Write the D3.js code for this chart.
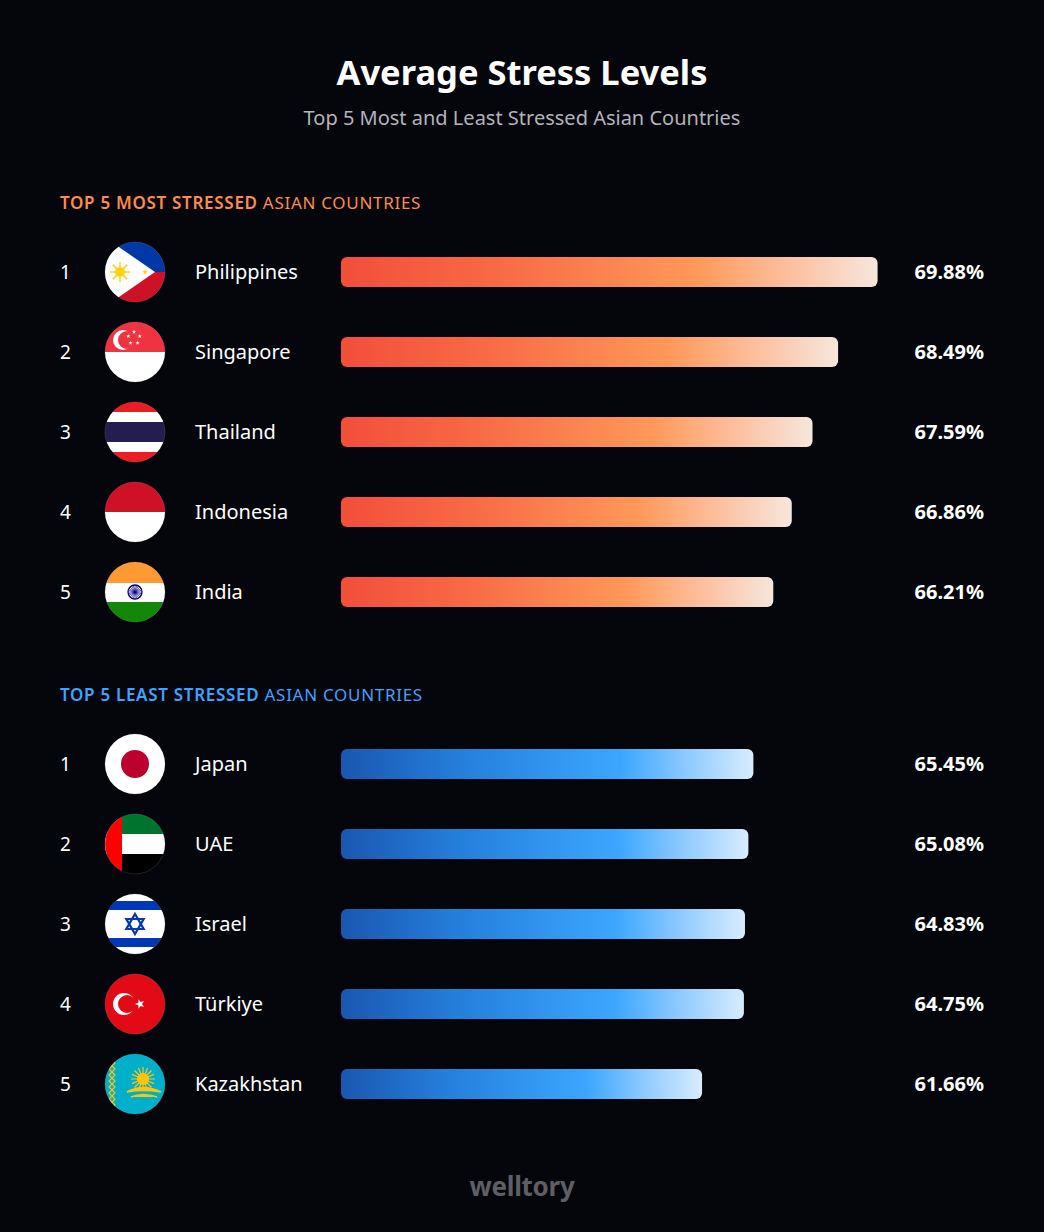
<!DOCTYPE html>
<html>
<head>
<meta charset="utf-8">
<title>Average Stress Levels</title>
<script src="https://cdn.jsdelivr.net/npm/d3@7"></script>
<style>
  body { margin: 0; background: #05060b; }
  svg { display: block; }
</style>
</head>
<body>
<script>
// data
const ranks = [1, 2, 3, 4, 5];
const mostCountries = ["Philippines", "Singapore", "Thailand", "Indonesia", "India"];
const mostValues = [69.88, 68.49, 67.59, 66.86, 66.21];
const leastCountries = ["Japan", "UAE", "Israel", "Türkiye", "Kazakhstan"];
const leastValues = [65.45, 65.08, 64.83, 64.75, 61.66];

const w = 1044;
const h = 1232;
const font = "'Noto Sans', 'Open Sans', sans-serif";
const barX = 341;
const rowStep = 80;
const barH = 30;

const svg = d3.select("body").append("svg")
  .attr("width", w)
  .attr("height", h);

svg.append("rect").attr("width", w).attr("height", h).attr("fill", "#05060b");

const defs = svg.append("defs");
defs.append("clipPath").attr("id", "flagClip")
  .append("circle").attr("r", 30);

// gradients for bars
function gradient(id, stops) {
  const g = defs.append("linearGradient").attr("id", id)
    .attr("x1", "0%").attr("x2", "100%").attr("y1", "0%").attr("y2", "0%");
  stops.forEach(s => g.append("stop").attr("offset", s[0]).attr("stop-color", s[1]));
}
gradient("gradOrange", [["0%", "#f24e3b"], ["30%", "#f86b46"], ["66%", "#ff9859"], ["85%", "#fcc3a3"], ["100%", "#f6e6dc"]]);
gradient("gradBlue", [["0%", "#1a57b0"], ["30%", "#2580dd"], ["68%", "#3ca6ff"], ["85%", "#93ccff"], ["100%", "#d8ecff"]]);

// title
svg.append("text")
  .attr("x", w / 2).attr("y", 85)
  .attr("text-anchor", "middle")
  .attr("font-family", font).attr("font-weight", 700).attr("font-size", "34.5px")
  .attr("fill", "#ffffff")
  .text("Average Stress Levels");

svg.append("text")
  .attr("x", w / 2).attr("y", 125)
  .attr("text-anchor", "middle")
  .attr("font-family", font).attr("font-size", "20px")
  .attr("fill", "#b3b3bb")
  .text("Top 5 Most and Least Stressed Asian Countries");

// small helpers for flags
function starPoints(cx, cy, r, rot) {
  const pts = [];
  for (let i = 0; i < 10; i++) {
    const rr = i % 2 === 0 ? r : r * 0.4;
    const a = (rot || -90) * Math.PI / 180 + i * Math.PI / 5;
    pts.push([cx + rr * Math.cos(a), cy + rr * Math.sin(a)]);
  }
  return pts.map(p => p.join(",")).join(" ");
}
function stripes(g, colors, heights) {
  let y = -30;
  colors.forEach((c, i) => {
    g.append("rect").attr("x", -30).attr("y", y).attr("width", 60).attr("height", heights[i]).attr("fill", c);
    y += heights[i];
  });
}
function sun(g, cx, cy, r, rays, color, rayW) {
  for (let i = 0; i < rays; i++) {
    const a = i * 2 * Math.PI / rays;
    g.append("line")
      .attr("x1", cx).attr("y1", cy)
      .attr("x2", cx + r * 2 * Math.cos(a)).attr("y2", cy + r * 2 * Math.sin(a))
      .attr("stroke", color).attr("stroke-width", rayW || 1.6);
  }
  g.append("circle").attr("cx", cx).attr("cy", cy).attr("r", r).attr("fill", color);
}

const flags = {
  "Philippines": g => {
    stripes(g, ["#0038a8", "#ce1126"], [30, 30]);
    g.append("polygon").attr("points", "-45,-45 20,0 -45,45").attr("fill", "#ffffff");
    sun(g, -15, 0, 5, 8, "#fcd116");
    g.append("polygon").attr("points", starPoints(10, 0, 3)).attr("fill", "#fcd116");
  },
  "Singapore": g => {
    stripes(g, ["#ef3340", "#ffffff"], [30, 30]);
    g.append("circle").attr("cx", -12).attr("cy", -12).attr("r", 10).attr("fill", "#ffffff");
    g.append("circle").attr("cx", -8).attr("cy", -12).attr("r", 9).attr("fill", "#ef3340");
    for (let i = 0; i < 5; i++) {
      const a = -Math.PI / 2 + i * 2 * Math.PI / 5;
      g.append("polygon").attr("points", starPoints(-1 + 6 * Math.cos(a), -14 + 6 * Math.sin(a), 2.2)).attr("fill", "#ffffff");
    }
  },
  "Thailand": g => stripes(g, ["#ed1c24", "#ffffff", "#241d4f", "#ffffff", "#ed1c24"], [10, 10, 20, 10, 10]),
  "Indonesia": g => stripes(g, ["#ce1126", "#ffffff"], [30, 30]),
  "India": g => {
    stripes(g, ["#ff9933", "#ffffff", "#138808"], [21, 19, 20]);
    g.append("circle").attr("r", 7).attr("fill", "none").attr("stroke", "#000080").attr("stroke-width", 1.3);
    for (let i = 0; i < 12; i++) {
      const a = i * Math.PI / 12;
      g.append("line")
        .attr("x1", -7 * Math.cos(a)).attr("y1", -7 * Math.sin(a))
        .attr("x2", 7 * Math.cos(a)).attr("y2", 7 * Math.sin(a))
        .attr("stroke", "#000080").attr("stroke-width", 0.6);
    }
  },
  "Japan": g => {
    stripes(g, ["#ffffff"], [60]);
    g.append("circle").attr("r", 14).attr("fill", "#bc002d");
  },
  "UAE": g => {
    stripes(g, ["#00732f", "#ffffff", "#000000"], [20, 20, 20]);
    g.append("rect").attr("x", -30).attr("y", -30).attr("width", 17).attr("height", 60).attr("fill", "#ff0000");
  },
  "Israel": g => {
    stripes(g, ["#ffffff", "#0038b8", "#ffffff", "#0038b8", "#ffffff"], [7, 9, 28, 9, 7]);
    const t1 = d3.range(3).map(i => { const a = -Math.PI / 2 + i * 2 * Math.PI / 3; return [10 * Math.cos(a), 10 * Math.sin(a)]; });
    const t2 = t1.map(p => [p[0], -p[1]]);
    [t1, t2].forEach(t => g.append("polygon")
      .attr("points", t.map(p => p.join(",")).join(" "))
      .attr("fill", "none").attr("stroke", "#0038b8").attr("stroke-width", 2.2));
  },
  "Türkiye": g => {
    stripes(g, ["#e30a17"], [60]);
    g.append("circle").attr("cx", -11).attr("cy", 0).attr("r", 11).attr("fill", "#ffffff");
    g.append("circle").attr("cx", -8).attr("cy", 0).attr("r", 9).attr("fill", "#e30a17");
    g.append("polygon").attr("points", starPoints(5, 0, 5, 180)).attr("fill", "#ffffff");
  },
  "Kazakhstan": g => {
    stripes(g, ["#00afca"], [60]);
    sun(g, 8, -5, 6, 16, "#fec50c", 1.2);
    g.append("path").attr("d", "M-8,8 Q8,-1 26,8 Q8,5 -8,8 Z M-4,13 Q8,8 22,13").attr("fill", "#fec50c")
      .attr("stroke", "#fec50c").attr("stroke-width", 1.5);
    d3.range(-27, 28, 6).forEach(y => g.append("polygon")
      .attr("points", `-23,${y - 3} -20,${y} -23,${y + 3} -26,${y}`)
      .attr("fill", "none").attr("stroke", "#fec50c").attr("stroke-width", 1.2));
  }
};

const sections = [
  { boldText: "TOP 5 MOST STRESSED", restText: " ASIAN COUNTRIES", color: "#ff8a4c",
    headerY: 209, firstRow: 272, countries: mostCountries, values: mostValues,
    grad: "gradOrange", domain: [51, 70], range: [0, 540] },
  { boldText: "TOP 5 LEAST STRESSED", restText: " ASIAN COUNTRIES", color: "#3ea2ff",
    headerY: 701, firstRow: 764, countries: leastCountries, values: leastValues,
    grad: "gradBlue", domain: [35, 70], range: [0, 474] }
];

sections.forEach(sec => {
  const header = svg.append("text")
    .attr("x", 60).attr("y", sec.headerY)
    .attr("font-family", font).attr("font-size", "17px")
    .attr("letter-spacing", "0.7px")
    .attr("fill", sec.color);
  header.append("tspan").attr("font-weight", 600).text(sec.boldText);
  header.append("tspan").text(sec.restText);

  const xScale = d3.scaleLinear().domain(sec.domain).range(sec.range);
  const yScale = d3.scaleLinear().domain([0, 1]).range([sec.firstRow, sec.firstRow + rowStep]);

  const rows = svg.append("g").selectAll("g")
    .data(sec.countries.map((c, i) => ({ country: c, value: sec.values[i], rank: ranks[i] })))
    .enter()
    .append("g")
    .attr("transform", (d, i) => "translate(0," + yScale(i) + ")");

  rows.append("text")
    .attr("x", 60).attr("y", 7)
    .attr("font-family", font).attr("font-size", "19px")
    .attr("fill", "#ffffff")
    .text(d => d.rank);

  rows.each(function(d) {
    const fg = d3.select(this).append("g").attr("transform", "translate(135,0)");
    const inner = fg.append("g").attr("clip-path", "url(#flagClip)");
    flags[d.country](inner);
    fg.append("circle").attr("r", 30).attr("fill", "none")
      .attr("stroke", "rgba(255,255,255,0.12)").attr("stroke-width", 1);
  });

  rows.append("text")
    .attr("x", 195).attr("y", 7)
    .attr("font-family", font).attr("font-size", "20px")
    .attr("fill", "#ffffff")
    .text(d => d.country);

  rows.append("rect")
    .attr("x", barX).attr("y", -barH / 2)
    .attr("width", d => xScale(d.value))
    .attr("height", barH)
    .attr("rx", 6)
    .attr("fill", "url(#" + sec.grad + ")");

  rows.append("text")
    .attr("x", 984).attr("y", 7)
    .attr("text-anchor", "end")
    .attr("font-family", font).attr("font-weight", 700).attr("font-size", "20px")
    .attr("fill", "#ffffff")
    .text(d => d.value.toFixed(2) + "%");
});

// logo
svg.append("text")
  .attr("x", w / 2).attr("y", 1196)
  .attr("text-anchor", "middle")
  .attr("font-family", font).attr("font-weight", 700).attr("font-size", "26px")
  .attr("letter-spacing", "-0.3px")
  .attr("fill", "#5e5e64")
  .text("welltory");
</script>
</body>
</html>
